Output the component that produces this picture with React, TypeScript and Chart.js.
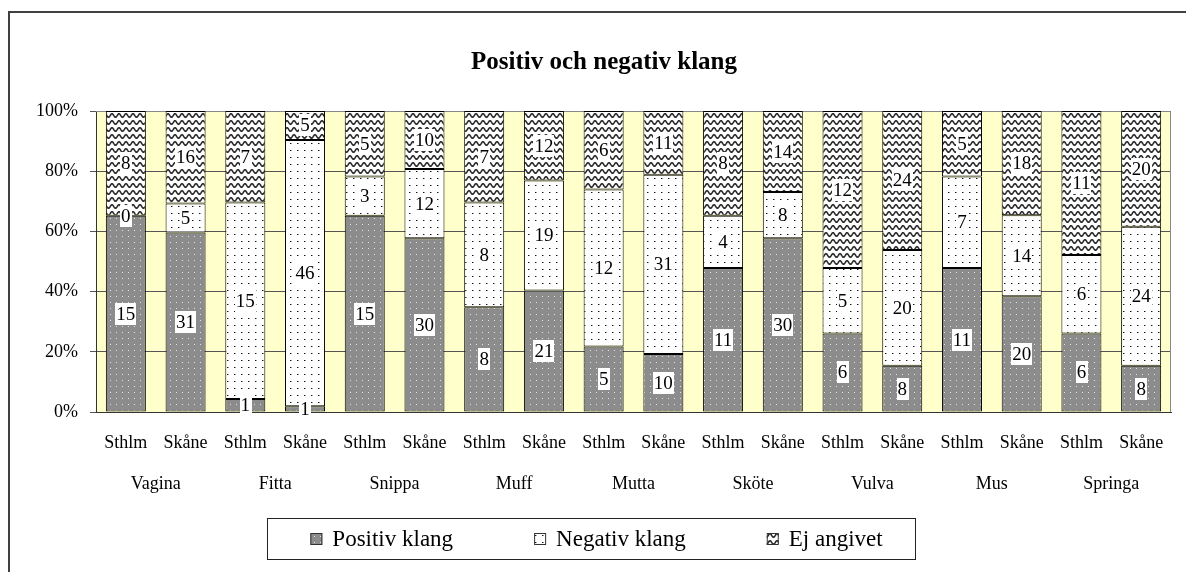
import React, { useEffect, useRef } from "react";
import { Chart, registerables } from "chart.js";

Chart.register(...registerables);

const groups = ["Vagina", "Fitta", "Snippa", "Muff", "Mutta", "Sköte", "Vulva", "Mus", "Springa"];
const regions = ["Sthlm", "Skåne"];
const categories = groups.flatMap(() => regions);
const positiv = [15, 31, 1, 1, 15, 30, 8, 21, 5, 10, 11, 30, 6, 8, 11, 20, 6, 8];
const negativ = [0, 5, 15, 46, 3, 12, 8, 19, 12, 31, 4, 8, 5, 20, 7, 14, 6, 24];
const ejAngivet = [8, 16, 7, 5, 5, 10, 7, 12, 6, 11, 8, 14, 12, 24, 5, 18, 11, 20];
const seriesNames = ["Positiv klang", "Negativ klang", "Ej angivet"];
const yTickStep = 20;
const titleText = "Positiv och negativ klang";

const FONT = '"Liberation Serif", "Times New Roman", serif';

function makePattern(ctx: CanvasRenderingContext2D, kind: string): CanvasPattern {
  const c = document.createElement("canvas");
  const g = c.getContext("2d")!;
  if (kind === "pos") {
    c.width = 6; c.height = 6;
    g.fillStyle = "#8c8c8c"; g.fillRect(0, 0, 6, 6);
    g.fillStyle = "#e4e4e4"; g.fillRect(2, 2, 1, 1);
  } else if (kind === "neg") {
    c.width = 7; c.height = 7;
    g.fillStyle = "#ffffff"; g.fillRect(0, 0, 7, 7);
    g.fillStyle = "#111111"; g.fillRect(3, 3, 1, 1);
    g.fillStyle = "#999999"; g.fillRect(4, 3, 1, 1);
  } else {
    c.width = 7; c.height = 7;
    g.fillStyle = "#ffffff"; g.fillRect(0, 0, 7, 7);
    g.strokeStyle = "#2a2a2a"; g.lineWidth = 1.6;
    g.beginPath();
    for (let i = -4; i <= 32; i++) {
      const px = i / 4;
      const py = 3.5 - 1.8 * Math.cos((2 * Math.PI * px) / 7);
      if (i === -4) g.moveTo(px, py); else g.lineTo(px, py);
    }
    g.stroke();
  }
  return ctx.createPattern(c, "repeat")!;
}

export default function App() {
  const ref = useRef<HTMLCanvasElement>(null);

  useEffect(() => {
    const canvas = ref.current!;
    const ctx = canvas.getContext("2d")!;
    const totals = positiv.map((p, i) => p + negativ[i] + ejAngivet[i]);
    const pct = (arr: number[]) => arr.map((v, i) => (v / totals[i]) * 100);
    const counts = [positiv, negativ, ejAngivet];
    const patterns = [makePattern(ctx, "pos"), makePattern(ctx, "neg"), makePattern(ctx, "ej")];

    const decor = {
      id: "decor",
      beforeDraw(chart: any) {
        const { ctx: c, chartArea: a, width, height } = chart;
        c.save();
        c.fillStyle = "#ffffff";
        c.fillRect(0, 0, width, height);
        c.strokeStyle = "#404040";
        c.lineWidth = 2;
        c.beginPath();
        c.moveTo(9, height);
        c.lineTo(9, 12);
        c.lineTo(width, 12);
        c.stroke();
        c.fillStyle = "#FFFFCC";
        c.fillRect(a.left, a.top, a.right - a.left, a.bottom - a.top);
        c.fillStyle = "#000";
        c.font = `bold 25px ${FONT}`;
        c.textAlign = "center";
        c.textBaseline = "alphabetic";
        c.fillText(titleText, 604, 69);
        c.restore();
      },
      beforeDatasetsDraw(chart: any) {
        const { ctx: c, chartArea: a } = chart;
        c.save();
        c.strokeStyle = "#888888";
        c.lineWidth = 1;
        c.beginPath();
        c.moveTo(a.left, a.top + 0.5);
        c.lineTo(a.right - 0.5, a.top + 0.5);
        c.lineTo(a.right - 0.5, a.bottom);
        c.stroke();
        c.restore();
      },
      afterDatasetsDraw(chart: any) {
        const c = chart.ctx;
        c.save();
        c.font = `19px ${FONT}`;
        c.textAlign = "center";
        c.textBaseline = "middle";
        chart.data.datasets.forEach((ds: any, di: number) => {
          const meta = chart.getDatasetMeta(di);
          meta.data.forEach((el: any, i: number) => {
            const p = el.getCenterPoint();
            const txt = String(counts[di][i]);
            const w = c.measureText(txt).width;
            c.fillStyle = "#ffffff";
            c.fillRect(Math.round(p.x - w / 2 - 1), Math.round(p.y - 11), Math.round(w + 2), 22);
            c.fillStyle = "#000000";
            c.fillText(txt, p.x, p.y + 1);
          });
        });
        c.restore();
      },
      afterDraw(chart: any) {
        const c = chart.ctx;
        c.save();
        c.font = `23px ${FONT}`;
        const box = 12, gapText = 10, itemGap = 81;
        const widths = seriesNames.map((n) => box + gapText + c.measureText(n).width);
        const total = widths.reduce((s, w) => s + w, 0) + itemGap * (seriesNames.length - 1);
        let x = 596.5 - total / 2;
        const startX = x;
        seriesNames.forEach((n, i) => {
          c.fillStyle = patterns[i];
          c.fillRect(x, 533, box, box);
          c.strokeStyle = "#333";
          c.lineWidth = 1;
          c.strokeRect(x + 0.5, 533.5, box - 1, box - 1);
          c.fillStyle = "#000";
          c.textAlign = "left";
          c.textBaseline = "alphabetic";
          c.fillText(n, x + box + gapText, 546);
          x += widths[i] + itemGap;
        });
        const endX = x - itemGap;
        c.strokeStyle = "#222";
        c.lineWidth = 1;
        c.strokeRect(Math.round(startX - 43) + 0.5, 518.5, Math.round(endX + 33 - (startX - 43)), 41);
        c.restore();
      },
    };

    const tickFont = { family: FONT, size: 18 };

    const chart = new Chart(ctx, {
      type: "bar",
      data: {
        labels: categories,
        datasets: seriesNames.map((name, i) => ({
          label: name,
          data: pct(counts[i]),
          backgroundColor: patterns[i],
          borderColor: "#000000",
          borderWidth: 1,
          borderSkipped: false,
          barPercentage: 0.67,
          categoryPercentage: 1.0,
        })),
      },
      options: {
        responsive: false,
        devicePixelRatio: 1,
        animation: false,
        layout: { padding: { left: 0, right: 15, top: 111, bottom: 0 } },
        plugins: {
          legend: { display: false },
          title: { display: false },
          tooltip: { enabled: false },
        },
        scales: {
          x: {
            type: "category",
            stacked: true,
            offset: true,
            weight: 0,
            grid: { display: false, drawTicks: false },
            border: { display: true, color: "#333333", width: 1 },
            ticks: { font: tickFont, color: "#000", padding: 20, maxRotation: 0, autoSkip: false },
            afterFit(s: any) { s.height = 56; },
          },
          x2: {
            type: "category",
            labels: groups,
            position: "bottom",
            offset: true,
            weight: 1,
            grid: { display: false, drawTicks: false },
            border: { display: false },
            ticks: { font: tickFont, color: "#000", padding: 5, maxRotation: 0, autoSkip: false },
            afterFit(s: any) { s.height = 104; },
          },
          y: {
            stacked: true,
            min: 0,
            max: 100,
            grid: { color: "#555555", tickLength: 6, drawTicks: true },
            border: { display: true, color: "#333333" },
            ticks: {
              stepSize: yTickStep,
              font: { family: FONT, size: 18 },
              color: "#000",
              padding: 12,
              callback: (v: any) => `${v}%`,
            },
            afterFit(s: any) { s.width = 96; },
          },
        },
      },
      plugins: [decor],
    } as any);

    return () => chart.destroy();
  }, []);

  return (
    <div style={{ position: "absolute", left: 0, top: 0, width: 1186, height: 572 }}>
      <canvas ref={ref} width={1186} height={572} style={{ display: "block" }} />
    </div>
  );
}
